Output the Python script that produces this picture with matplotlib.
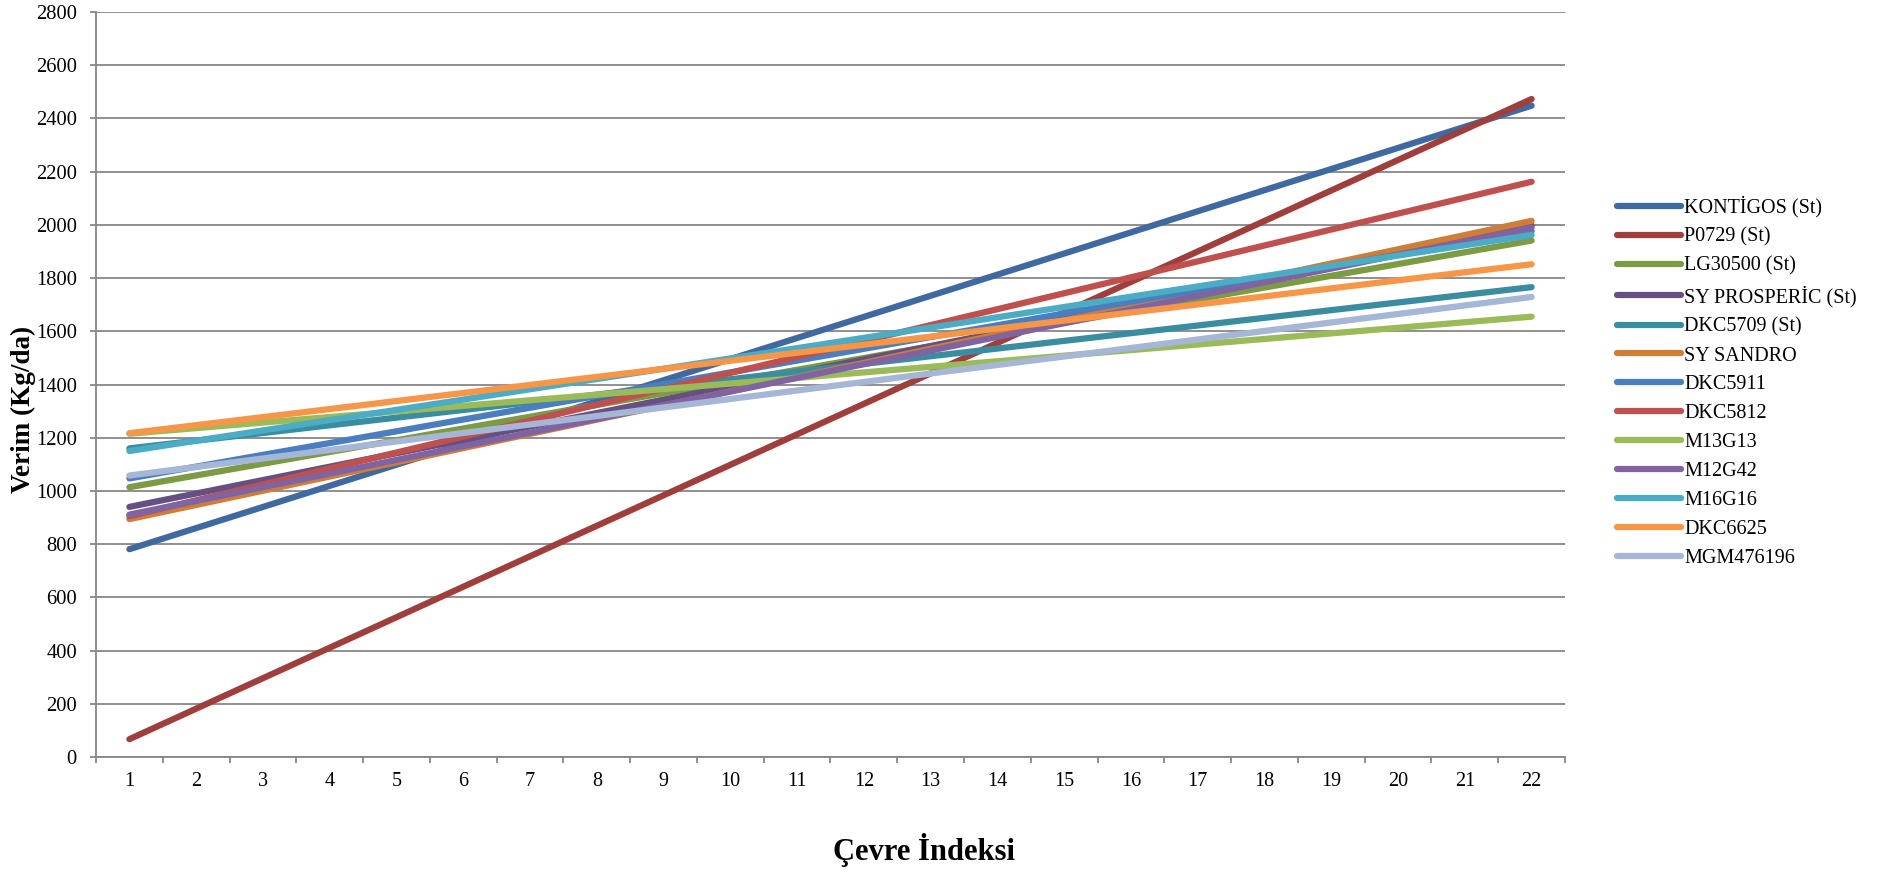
import matplotlib
matplotlib.use("Agg")
import matplotlib.pyplot as plt
import numpy as np

# Data: regression-line values at environment index 1 and 22
x_points = [1, 22]
series_names = ["KONTİGOS (St)", "P0729 (St)", "LG30500 (St)", "SY PROSPERİC (St)",
                "DKC5709 (St)", "SY SANDRO", "DKC5911", "DKC5812", "M13G13",
                "M12G42", "M16G16", "DKC6625", "MGM476196"]
start_values = [781, 67, 1014, 940, 1160, 894, 1047, 905, 1215, 911, 1150, 1217, 1058]
end_values = [2448, 2473, 1941, 1998, 1766, 2015, 1977, 2162, 1655, 1990, 1962, 1852, 1729]
colors = ["#3E6AA1", "#A03E3C", "#7D9B42", "#654F83", "#3A8CA1", "#D07D35",
          "#4A7EBF", "#C0504D", "#9BBB59", "#8064A2", "#4BACC6", "#F79646", "#A5B6D6"]
x_ticks = list(range(1, 23))
y_ticks = list(range(0, 2801, 200))

plt.rcParams['font.family'] = ['Liberation Serif', 'DejaVu Serif']

W, H = 1888, 875
fig = plt.figure(figsize=(W / 100, H / 100), dpi=100)
ax = fig.add_axes([96 / W, 1 - 757 / H, (1565 - 96) / W, (757 - 12) / H])

for name, s, e, c in zip(series_names, start_values, end_values, colors):
    ax.plot(x_points, [s, e], color=c, lw=4.5, solid_capstyle='round', label=name)

ax.set_xlim(0.5, 22.5)
ax.set_ylim(0, 2800)
ax.set_yticks(y_ticks)
ax.set_xticks(x_ticks)
ax.set_xticks(np.arange(0.5, 23, 1), minor=True)
ax.tick_params(axis='x', which='major', length=0, pad=11, labelsize=14.5)
ax.tick_params(axis='x', which='minor', length=4.3, width=1.3, color='#878787', direction='out')
ax.tick_params(axis='y', length=4.3, width=1.3, color='#878787', labelsize=14.8, pad=9.4)
ax.yaxis.grid(True, color='#878787', lw=1.3)
ax.set_axisbelow(True)
for sp in ['top', 'right']:
    ax.spines[sp].set_visible(False)
for sp in ['left', 'bottom']:
    ax.spines[sp].set_color('#878787')
    ax.spines[sp].set_linewidth(1.3)

fig.text(23 / W, 1 - 409 / H, "Verim (Kg/da)", fontsize=19.5, fontweight='bold',
         rotation=90, ha='center', va='center')
fig.text(924 / W, 1 - 860 / H, "Çevre İndeksi", fontsize=22, fontweight='bold',
         ha='center', va='baseline')

leg = ax.legend(loc='upper left', bbox_to_anchor=(1617 / W, 1 - 196 / H), bbox_transform=fig.transFigure,
                frameon=False, fontsize=14.5, handlelength=3.2, handletextpad=0.15,
                labelspacing=0.49, borderaxespad=0, borderpad=0)
for line in leg.get_lines():
    line.set_solid_capstyle('round')

fig.savefig("out.png", dpi=100)
